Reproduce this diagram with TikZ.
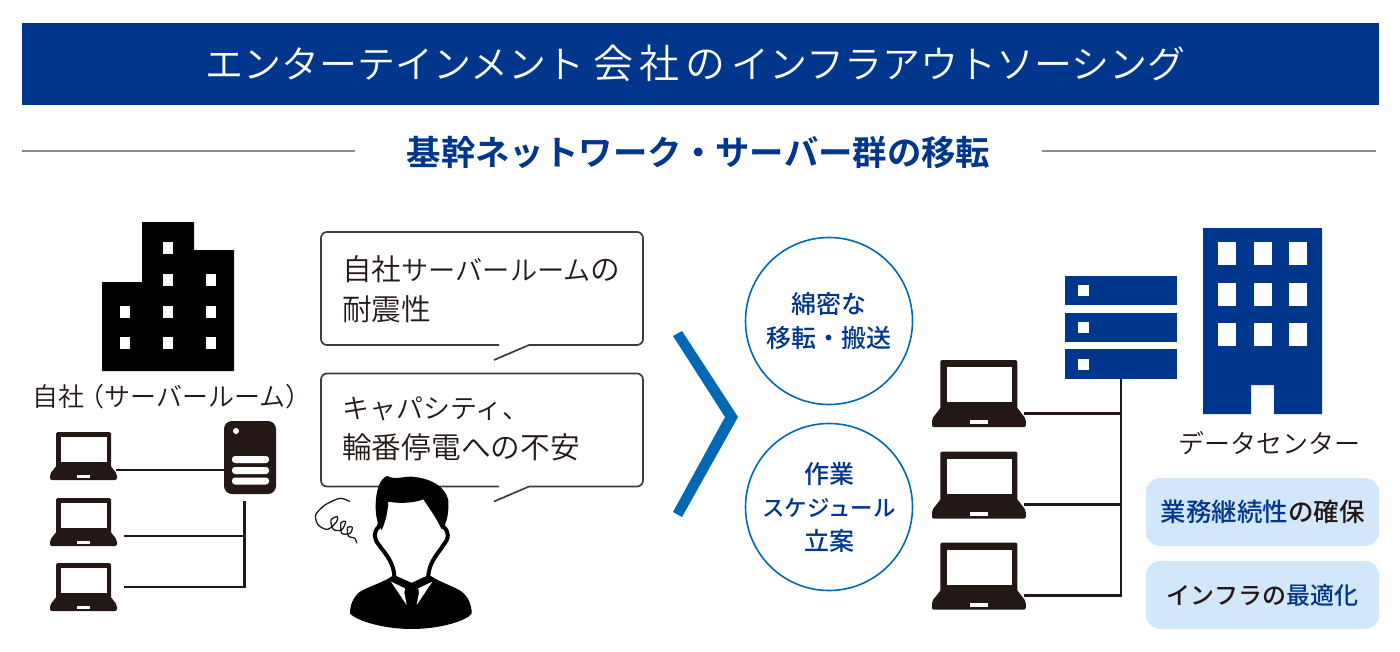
\documentclass[tikz,border=0pt]{standalone}
\usepackage{fontspec}
\usepackage{xcolor}
\setmainfont{Noto Sans CJK JP DemiLight}
\newfontfamily\jpmid{Noto Sans CJK JP Medium}
\newfontfamily\jpbold{Noto Sans CJK JP Bold}
\usetikzlibrary{positioning}
\definecolor{navyblue}{HTML}{00368C}
\definecolor{chevblue}{HTML}{0068B4}
\definecolor{paleblue}{HTML}{D3E7FA}
\definecolor{inkblack}{HTML}{231815}
\definecolor{rulegray}{HTML}{8C8C8C}
\newcommand{\fs}[2]{\fontsize{#1}{#2}\selectfont}
\tikzset{
  wire/.style={draw=inkblack, line width=2.8pt},
  rackslot/.style={fill=navyblue},
  tagbox/.style={fill=paleblue, rounded corners=14pt, minimum width=233pt, minimum height=68pt, inner sep=0pt, text=inkblack, font=\jpmid\fs{25.5}{30}},
  roundtask/.style={circle, draw=chevblue, line width=1.6pt, minimum size=167pt, inner sep=0pt, align=center, text=navyblue, font=\jpmid\fs{25}{33.5}},
  says/.style={anchor=west, inner sep=0pt, align=left, text=inkblack, font=\fs{29.7}{40}},
  label/.style={inner sep=0pt, text=inkblack, font=\fs{26}{30}},
  laptop/.pic={
    \fill[inkblack, rounded corners=1.5pt] (6,0) rectangle (61,36);
    \fill[white] (11,5) rectangle (57,30);
    \fill[inkblack, rounded corners=2pt] (7,33) -- (60,33) -- (67,42) -- (67,48) -- (0,48) -- (0,42) -- cycle;
    \fill[white] (27,43) rectangle (40,46);
    \coordinate (-port) at (66,38);
  },
  speech/.pic={
    \draw[draw=inkblack!85, line width=1.7pt, rounded corners=6pt] (178,113) -- (0,113) -- (0,0) -- (322,0) -- (322,113) -- (208,113);
    \draw[draw=inkblack!85, line width=1.7pt] (208,113) -- (173,128);
  }
}
\begin{document}
\begin{tikzpicture}[x=1pt, y=-1pt]
  \useasboundingbox (0,0) rectangle (1400,651);

  % Title bar and heading
  \node[fill=navyblue, minimum width=1357pt, minimum height=82pt, inner sep=0pt] (titlebar) at (700.5,63.5) {};
  \node[inner sep=0pt, text=white, font=\fs{38}{44}] (titletext) at (695.5,63) {エンターテインメント\hspace{9pt}{\fs{40}{44}会\hspace{6pt}社\hspace{6pt}の}\hspace{6pt}インフラアウトソーシング};
  \node[inner sep=0pt, text=navyblue, font=\jpbold\fs{34.4}{40}] (heading) at (698.5,152) {基幹ネットワーク・サーバー群の移転};
  \draw[rulegray, line width=1.5pt] (22,151) -- (355,151);
  \draw[rulegray, line width=1.5pt] (1042,151) -- (1376,151);

  % Own building
  \fill[black] (102,371) -- (102,282) -- (142,282) -- (142,222) -- (194,222) -- (194,250) -- (234,250) -- (234,371) -- cycle;
  \foreach \x/\y in {168/248, 168/280, 211/280, 125/312, 168/312, 211/312, 125/343, 168/343, 211/343} {
    \fill[white] (\x-5,\y-6) rectangle (\x+5,\y+6);
  }
  \node[label] (ownlabel) at (172,397) {自社\hspace{-6pt}（サーバールーム）};

  % Own server room
  \node[fill=inkblack, rounded corners=8pt, minimum width=52pt, minimum height=73pt, inner sep=0pt] (ownserver) at (250,457.5) {};
  \fill[white] (236,431) circle (3);
  \foreach \y in {459.5, 470.5, 481} {
    \fill[white, rounded corners=3pt] (232,\y-3.5) rectangle (269,\y+3.5);
  }
  \pic (lapa) at (50,432) {laptop};
  \pic (lapb) at (50,498) {laptop};
  \pic (lapc) at (50,563) {laptop};
  \coordinate (tieb) at (124,536);
  \coordinate (tiec) at (124,587);
  \coordinate (bustop) at (244.5,501);
  \coordinate (busend) at (244.5,587);
  \draw[wire] (lapa-port) -- (ownserver.west |- lapa-port);
  \draw[wire] (tieb) -- (bustop |- tieb);
  \draw[wire] (tiec) -- (busend) -- (bustop);

  % Speech bubbles
  \pic at (321,232) {speech};
  \pic at (321,373.5) {speech};
  \node[says] (saysroom) at (342,289) {自社{\fs{27.2}{40}サーバールーム}の\\耐震性};
  \node[says] (saysrisk) at (342,429) {{\fs{27}{40}キャパシティ、}\\輪番停電への不安};

  % Worried person
  \begin{scope}[shift={(305,470)}, x=0.3333pt, y=-0.3333pt]
    \fill[black] (262,318) .. controls (240,335) and (190,350) .. (165,365) .. controls (145,380) and (135,405) .. (135,430) .. controls (150,450) and (230,477) .. (320,477) .. controls (410,477) and (490,450) .. (500,430) .. controls (500,405) and (490,380) .. (470,365) .. controls (450,350) and (400,335) .. (378,318) -- cycle;
    \draw[black, fill=white, line width=4pt] (235,60) -- (226,150) -- (222,170) .. controls (205,185) and (205,205) .. (222,225) .. controls (235,245) and (268,275) .. (268,322) -- (320,345) -- (370,322) .. controls (370,275) and (405,245) .. (415,225) .. controls (433,205) and (433,185) .. (415,170) -- (412,150) -- (405,60) -- cycle;
    \fill[black] (247,18) .. controls (225,25) and (212,60) .. (212,110) .. controls (212,140) and (218,165) .. (230,180) .. controls (240,160) and (248,130) .. (250,95) .. controls (290,102) and (330,98) .. (355,88) .. controls (370,110) and (395,145) .. (410,178) .. controls (428,160) and (432,120) .. (430,90) .. controls (420,50) and (380,25) .. (320,20) .. controls (290,20) and (270,30) .. cycle;
    \fill[white] (258,335) -- (300,355) -- (298,368) -- (305,405) -- cycle;
    \fill[white] (382,335) -- (340,355) -- (342,368) -- (335,405) -- cycle;
    \draw[inkblack, line width=1.3pt] plot[smooth] coordinates {(135,95) (105,85) (60,105) (32,135) (40,165) (68,178) (95,155) (97,140) (78,150) (85,178) (110,180) (122,155) (108,158) (110,190) (135,190) (142,172) (128,172) (130,198) (150,205) (155,220)};
  \end{scope}

  % Chevron and tasks
  \fill[chevblue] (673,336) -- (682,331) -- (738,417) -- (682,517) -- (673,512) -- (725,417) -- cycle;
  \node[roundtask] (taskmove) at (829,321) {綿密な\\移転・搬送};
  \node[roundtask] (taskplan) at (829,507) {作業\\{\fs{22.5}{33.5}スケジュール}\\立案};

  % Data center
  \fill[navyblue] (1203,414) -- (1203,228) -- (1322,228) -- (1322,414) -- (1274,414) -- (1274,385) -- (1251,385) -- (1251,414) -- cycle;
  \foreach \x in {1227, 1262.5, 1298} {
    \foreach \y in {253.5, 294.5, 334.5} {
      \fill[white] (\x-9,\y-11.5) rectangle (\x+9,\y+11.5);
    }
  }
  \node[label] (dclabel) at (1269,443) {データセンター};
  \node[rackslot, minimum width=112pt, minimum height=29.5pt, inner sep=0pt] (racka) at (1121,290.5) {};
  \node[rackslot, minimum width=112pt, minimum height=29.5pt, inner sep=0pt] (rackb) at (1121,327.5) {};
  \node[rackslot, minimum width=112pt, minimum height=29.5pt, inner sep=0pt] (rackc) at (1121,364) {};
  \foreach \y in {290.5, 327.5, 364} {
    \fill[white] (1078,\y-5.5) rectangle (1089,\y+5.5);
  }

  % Data center laptops
  \pic[scale=1.4] (lapd) at (932,360) {laptop};
  \pic[scale=1.4] (lape) at (932,451.5) {laptop};
  \pic[scale=1.4] (lapf) at (932,542.5) {laptop};
  \coordinate (rackdrop) at (rackc.south |- lapf-port);
  \draw[wire] (rackc.south) -- (rackdrop) -- (lapf-port);
  \draw[wire] (lapd-port) -- (rackc.south |- lapd-port);
  \draw[wire] (lape-port) -- (rackc.south |- lape-port);

  % Benefits
  \node[tagbox] (tagcontinuity) at (1262.5,512) {\textcolor{navyblue}{業務継続性}の確保\hspace{3pt}};
  \node[tagbox, font=\jpmid\fs{24}{30}] (tagoptimize) at (1262.5,595) {インフラの\textcolor{navyblue}{最適化}};
\end{tikzpicture}
\end{document}
